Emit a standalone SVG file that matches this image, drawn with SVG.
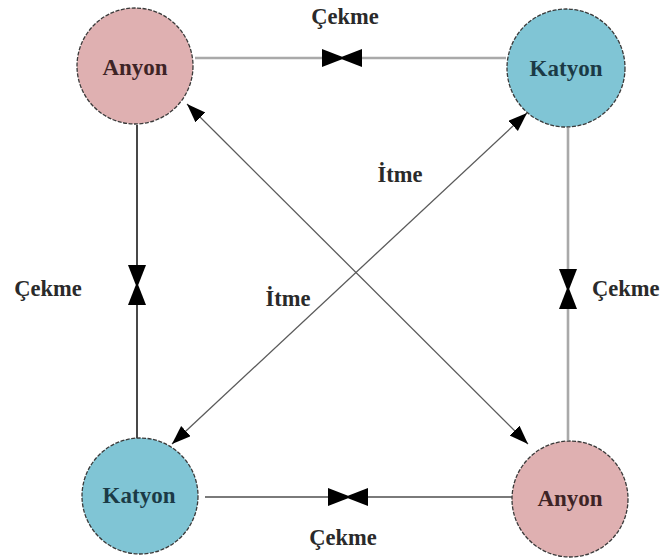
<svg xmlns="http://www.w3.org/2000/svg" width="667" height="560" viewBox="0 0 667 560">
  <style>
    .node { stroke: #3a3a3a; stroke-width: 1.3; stroke-dasharray: 4 1.5; }
    .anyon { fill: #dfb0b1; }
    .katyon { fill: #80c5d5; }
    .lbl { font-family: "Liberation Serif", "Times New Roman", serif; font-weight: bold; font-size: 23px; text-anchor: middle; }
    .anyon-t { fill: #3e2426; }
    .katyon-t { fill: #1b3a46; }
    .cap { font-family: "Liberation Serif", "Times New Roman", serif; font-weight: bold; font-size: 22.5px; fill: #2a2a2a; }
    .gray { stroke: #a9a9a9; stroke-width: 2.6; fill: none; }
    .dark { stroke: #1a1a1a; stroke-width: 1.6; fill: none; }
    .mid { stroke: #7a7a7a; stroke-width: 2; fill: none; }
    .diag { stroke: #5a5a5a; stroke-width: 1.3; fill: none; }
  </style>
  <defs>
    <marker id="tie" markerUnits="userSpaceOnUse" markerWidth="24" markerHeight="20" refX="20" refY="9" orient="auto">
      <path d="M0,0 L20,7.8 L20,10.2 L0,18 Z" fill="#000"/>
    </marker>
    <marker id="arrow" markerUnits="userSpaceOnUse" markerWidth="22" markerHeight="16" refX="19" refY="7" orient="auto-start-reverse">
      <path d="M0,0 L19,7 L0,14 Z" fill="#000"/>
    </marker>
  </defs>

  <g id="connectors">
    <!-- top: Katyon / Anyon attraction -->
    <line class="gray" x1="195" y1="58" x2="342" y2="58" marker-end="url(#tie)"/>
    <line class="gray" x1="506" y1="58" x2="342" y2="58" marker-end="url(#tie)"/>
    <!-- left -->
    <line class="dark" x1="137" y1="125" x2="137" y2="285" marker-end="url(#tie)"/>
    <line class="dark" x1="137" y1="440" x2="137" y2="285" marker-end="url(#tie)"/>
    <!-- right -->
    <line class="gray" x1="568" y1="128" x2="568" y2="289" marker-end="url(#tie)"/>
    <line class="gray" x1="568" y1="440" x2="568" y2="289" marker-end="url(#tie)"/>
    <!-- bottom -->
    <line class="mid" x1="205" y1="497" x2="348" y2="497" marker-end="url(#tie)"/>
    <line class="mid" x1="512" y1="497" x2="348" y2="497" marker-end="url(#tie)"/>
    <!-- diagonals: repulsion -->
    <line class="diag" x1="187" y1="104" x2="528" y2="444" marker-start="url(#arrow)" marker-end="url(#arrow)"/>
    <line class="diag" x1="172" y1="444" x2="527" y2="113" marker-start="url(#arrow)" marker-end="url(#arrow)"/>
  </g>

  <g id="anyon-top-left">
    <circle class="node anyon" cx="135" cy="66" r="58"/>
    <text class="lbl anyon-t" x="135" y="75">Anyon</text>
  </g>
  <g id="katyon-top-right">
    <circle class="node katyon" cx="566" cy="68" r="59"/>
    <text class="lbl katyon-t" x="566" y="76">Katyon</text>
  </g>
  <g id="katyon-bottom-left">
    <circle class="node katyon" cx="140" cy="496" r="58"/>
    <text class="lbl katyon-t" x="139" y="503">Katyon</text>
  </g>
  <g id="anyon-bottom-right">
    <circle class="node anyon" cx="570" cy="499" r="58"/>
    <text class="lbl anyon-t" x="570" y="506">Anyon</text>
  </g>

  <g id="labels">
    <text class="cap" x="345" y="24" text-anchor="middle">Çekme</text>
    <text class="cap" x="48" y="296" text-anchor="middle">Çekme</text>
    <text class="cap" x="592" y="296">Çekme</text>
    <text class="cap" x="343" y="545" text-anchor="middle">Çekme</text>
    <text class="cap" x="400" y="182" text-anchor="middle">İtme</text>
    <text class="cap" x="288" y="306" text-anchor="middle">İtme</text>
  </g>
</svg>
